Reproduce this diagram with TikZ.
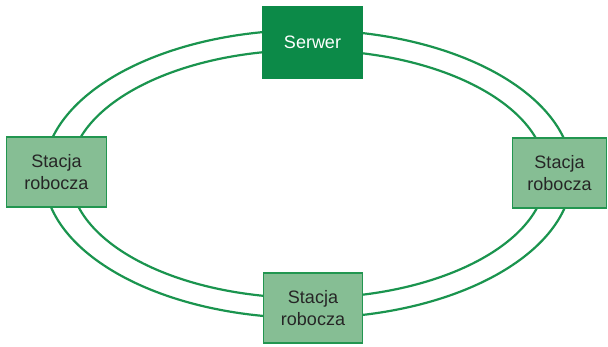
\documentclass[tikz,border=0pt]{standalone}
\usepackage{fontspec}
\setmainfont{Liberation Sans}
\definecolor{ringgreen}{RGB}{26,148,78}
\definecolor{servgreen}{RGB}{12,138,72}
\definecolor{stgreen}{RGB}{134,190,148}
\definecolor{stborder}{RGB}{34,150,80}
\begin{document}
\begin{tikzpicture}
		[x=1pt,y=-1pt,
		ring/.style={draw=ringgreen,line width=2.2pt},
		serwer/.style={fill=servgreen,text=white,minimum width=101pt,
			minimum height=73pt,font=\fontsize{18}{21.5}\selectfont},
		stacja/.style={fill=stgreen,draw=stborder,line width=1.4pt,
			text=black!85,align=center,minimum height=70pt,
			font=\fontsize{18}{21.5}\selectfont},
		]
		\useasboundingbox (0,0) rectangle (608,346);
		\coordinate (srodek) at (308,174);
		\draw[ring] (srodek) ellipse [x radius=264pt,y radius=144pt];
		\draw[ring] (srodek) ellipse [x radius=238pt,y radius=124pt];
		\node[serwer] (serwer) at (312.5,42.5) {Serwer};
		\node[stacja,minimum width=100pt] (lewa) at (56.5,172) {Stacja\\robocza};
		\node[stacja,minimum width=94pt] (prawa) at (559.5,173) {Stacja\\robocza};
		\node[stacja,minimum width=99pt] (dolna) at (313,308) {Stacja\\robocza};
	\end{tikzpicture}
\end{document}
